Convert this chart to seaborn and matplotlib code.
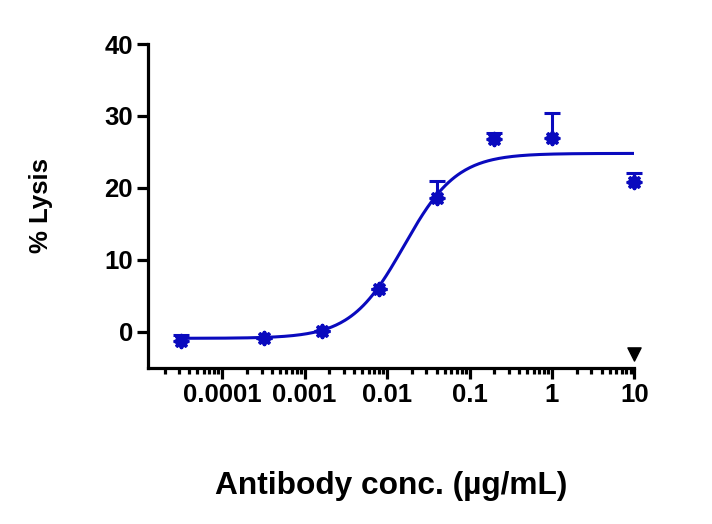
import numpy as np
import pandas as pd
import matplotlib
matplotlib.use("Agg")
import matplotlib.pyplot as plt
import seaborn as sns

# data
conc = [0.000032, 0.00032, 0.0016, 0.008, 0.04, 0.2, 1.0, 10.0]
lysis = [-1.2, -0.9, 0.15, 5.9, 18.6, 26.8, 26.9, 20.8]
sem_up = [0.8, 0.0, 0.0, 0.0, 2.3, 0.9, 3.5, 1.3]

# 4PL fit parameters (estimated from the drawn curve)
fit_bottom = -0.9
fit_top = 24.8
fit_ec50 = 0.016
fit_hill = 1.35
fit_range = [0.00003, 10.0]

marker_x = [10.0]
marker_y = [-3.1]

xticks = [0.0001, 0.001, 0.01, 0.1, 1, 10]
xticklabels = ["0.0001", "0.001", "0.01", "0.1", "1", "10"]
yticks = [0, 10, 20, 30, 40]

sns.set_style("ticks", {"axes.edgecolor": "black", "xtick.color": "black",
                        "ytick.color": "black", "text.color": "black",
                        "axes.labelcolor": "black"})
plt.rcParams["font.family"] = ["Liberation Sans", "DejaVu Sans"]
plt.rcParams["font.weight"] = "bold"

blue = "#0A0ABE"

fig = plt.figure(figsize=(7.12, 5.24), dpi=100)
ax = fig.add_axes([0.208, 0.298, 0.683, 0.618])

# fitted curve
xc = np.logspace(np.log10(fit_range[0]), np.log10(fit_range[1]), 300)
yc = fit_bottom + (fit_top - fit_bottom) / (1 + (fit_ec50 / xc) ** fit_hill)
curve = pd.DataFrame({"x": xc, "y": yc})
sns.lineplot(data=curve, x="x", y="y", ax=ax, color=blue, linewidth=2.2)

# error bars (upper only)
eb = ax.errorbar(conc, lysis, yerr=[np.zeros(len(sem_up)), sem_up], fmt="none",
                 ecolor=blue, elinewidth=2.2, capsize=6, capthick=2.2, zorder=3)
for art in eb.lines[1] + eb.lines[2]:
    art.set_clip_on(False)

pts = pd.DataFrame({"x": conc, "y": lysis})
sns.scatterplot(data=pts, x="x", y="y", ax=ax, marker=(8, 2, 0), s=70,
                color=blue, edgecolor=blue, linewidth=2.8, zorder=4, clip_on=False)

ax.scatter(marker_x, marker_y, marker="v", s=90, color="black", zorder=5, clip_on=False)

ax.set_xscale("log")
ax.set_xlim(1.26e-5, 10)
ax.set_ylim(-5, 40)
ax.set_xticks(xticks)
ax.set_xticklabels(xticklabels)
ax.xaxis.set_minor_locator(matplotlib.ticker.LogLocator(base=10, subs=np.arange(2, 10)))
ax.xaxis.set_minor_formatter(matplotlib.ticker.NullFormatter())
ax.set_yticks(yticks)

for s in ["left", "bottom"]:
    ax.spines[s].set_linewidth(2.3)
sns.despine(ax=ax)
ax.tick_params(axis="both", which="major", width=2.3, length=8, labelsize=18.5, pad=3,
               colors="black")
ax.tick_params(axis="x", which="minor", width=2.3, length=4, colors="black")

ax.set_xlabel("Antibody conc. (µg/mL)", fontsize=22.8, fontweight="bold", labelpad=46)
ax.set_ylabel("% Lysis", fontsize=18.5, fontweight="bold", labelpad=37)

fig.savefig("out.png", dpi=100)
